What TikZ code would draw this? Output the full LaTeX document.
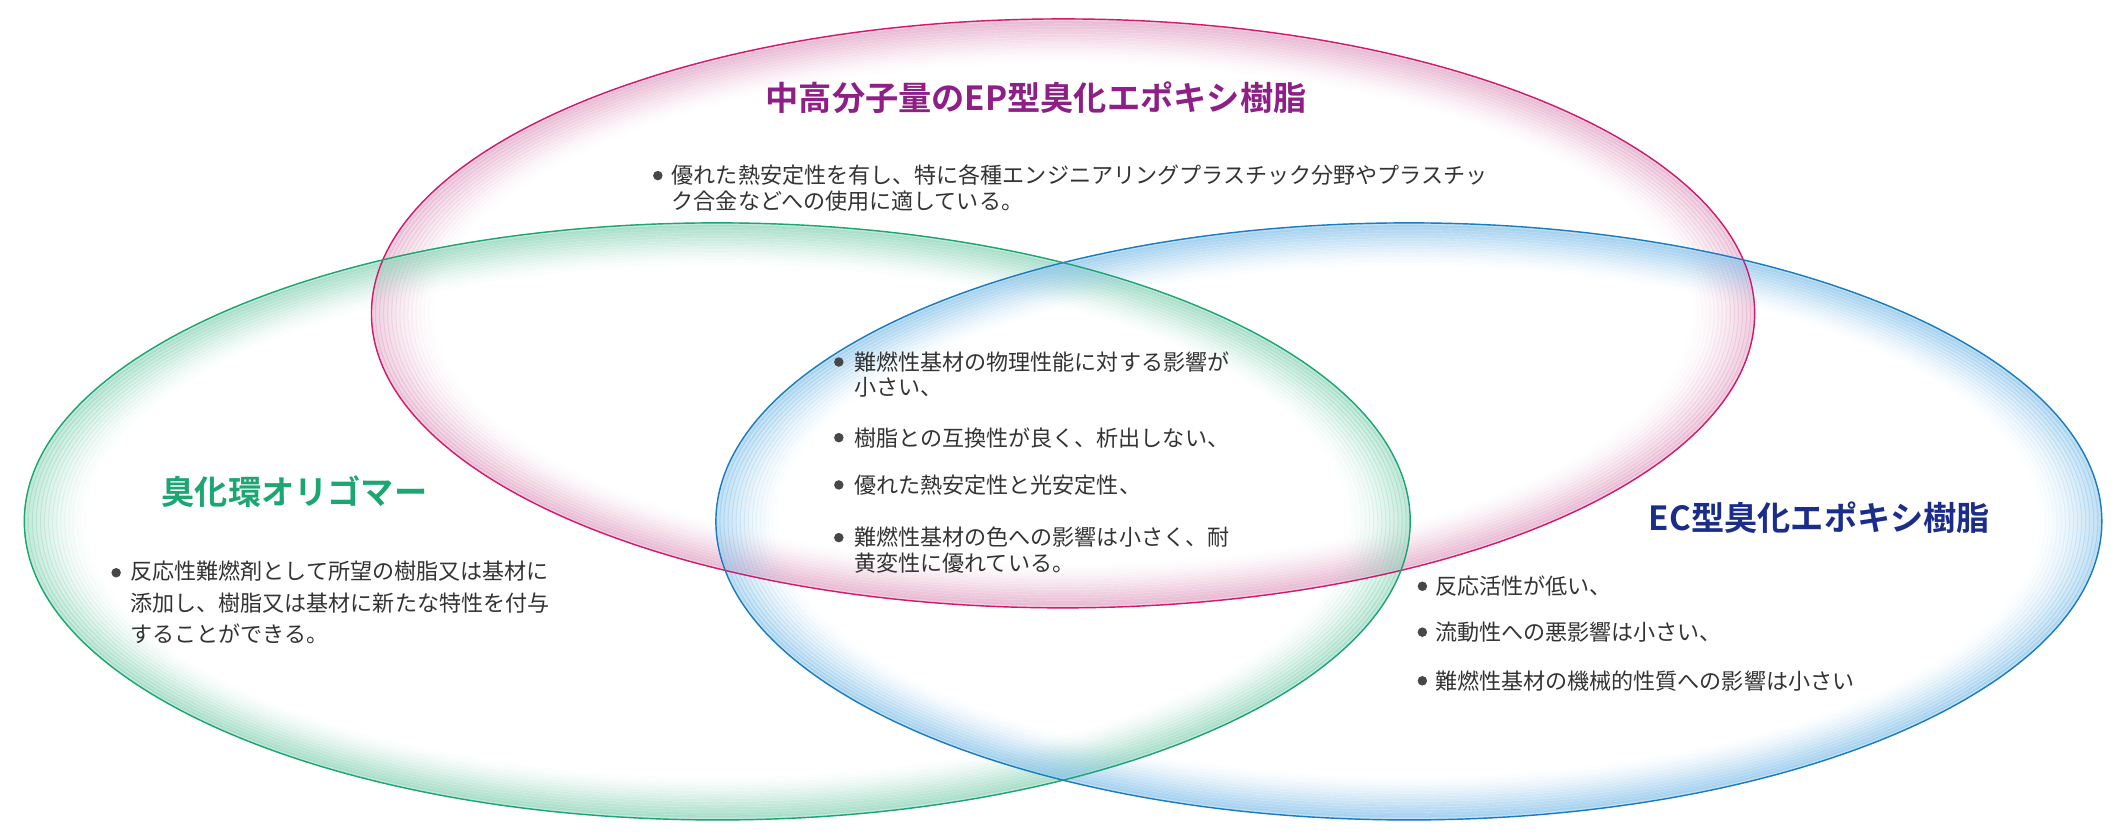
\documentclass[tikz,border=0pt]{standalone}
\usepackage{fontspec}
\setmainfont{Noto Sans CJK JP}
\newfontfamily\cjkb{Noto Sans CJK JP Bold}
\definecolor{pinkS}{HTML}{D6186E}\definecolor{pinkR}{HTML}{E3A9C8}
\definecolor{greenS}{HTML}{1BA672}\definecolor{greenR}{HTML}{92D6BC}
\definecolor{blueS}{HTML}{1A7DC4}\definecolor{blueR}{HTML}{8FC6EB}
\definecolor{ttlP}{HTML}{8E1F87}\definecolor{ttlG}{HTML}{1BA672}\definecolor{ttlB}{HTML}{1B2D8A}
\definecolor{txt}{HTML}{333333}
\tikzset{
 body/.style={anchor=north west, align=left, inner sep=0pt, text=txt, font=\fontsize{9.3}{10.8}\selectfont},
 bul/.style={circle, fill=txt!90, inner sep=0pt, minimum size=4pt},
 ttl/.style={inner sep=0pt, font=\cjkb\fontsize{14}{16}\selectfont}
}
\newcommand{\ringell}[5]{% cx cy rx ry color
 \foreach \i in {0,...,15}{
  \pgfmathsetmacro{\op}{0.55*(1-\i/16)^1.6}
  \draw[#5, draw opacity=\op, line width=0.075cm] (#1,#2) ellipse [x radius={#3-1.5-\i*3.0}, y radius={#4-1.5-\i*2.0}];
 }}
\begin{document}
\begin{tikzpicture}[x=0.02cm,y=-0.02cm]
\useasboundingbox (0,0) rectangle (1568,620);
\ringell{787}{232}{512}{218}{pinkR}
\ringell{531}{386}{513}{221}{greenR}
\ringell{1043}{386}{513}{221}{blueR}
\draw[pinkS,line width=0.6pt] (787,232) ellipse [x radius=512,y radius=218];
\draw[greenS,line width=0.6pt] (531,386) ellipse [x radius=513,y radius=221];
\draw[blueS,line width=0.6pt] (1043,386) ellipse [x radius=513,y radius=221];
% titles
\node[ttl,text=ttlP] (tp) at (767,72) {中高分子量のEP型臭化エポキシ樹脂};
\node[ttl,text=ttlG] (tg) at (218,364) {臭化環オリゴマー};
\node[ttl,text=ttlB] (tb) at (1347,383) {EC型臭化エポキシ樹脂};
% pink body
\node[bul] (bp1) at (487,130) {};
\node[body] (p1) at (497,122) {優れた熱安定性を有し、特に各種エンジニアリングプラスチック分野やプラスチッ\\ク合金などへの使用に適している。};
% green body
\node[bul] (bg1) at (86,424) {};
\node[body] (g1) at (96,415) {反応性難燃剤として所望の樹脂又は基材に\\[2.5pt]添加し、樹脂又は基材に新たな特性を付与\\[2.5pt]することができる。};
% center
\node[bul] (bc1) at (621,268) {};
\node[body] (c1) at (632,260) {難燃性基材の物理性能に対する影響が\\小さい、};
\node[bul] (bc2) at (621,324) {};
\node[body] (c2) at (632,316) {樹脂との互換性が良く、析出しない、};
\node[bul] (bc3) at (621,359) {};
\node[body] (c3) at (632,351) {優れた熱安定性と光安定性、};
\node[bul] (bc4) at (621,398) {};
\node[body] (c4) at (632,390) {難燃性基材の色への影響は小さく、耐\\黄変性に優れている。};
% blue body
\node[bul] (bb1) at (1053,434) {};
\node[body] (b1) at (1062,426) {反応活性が低い、};
\node[bul] (bb2) at (1053,468) {};
\node[body] (b2) at (1062,460) {流動性への悪影響は小さい、};
\node[bul] (bb3) at (1053,504) {};
\node[body] (b3) at (1062,496) {難燃性基材の機械的性質への影響は小さい};
\end{tikzpicture}
\end{document}
